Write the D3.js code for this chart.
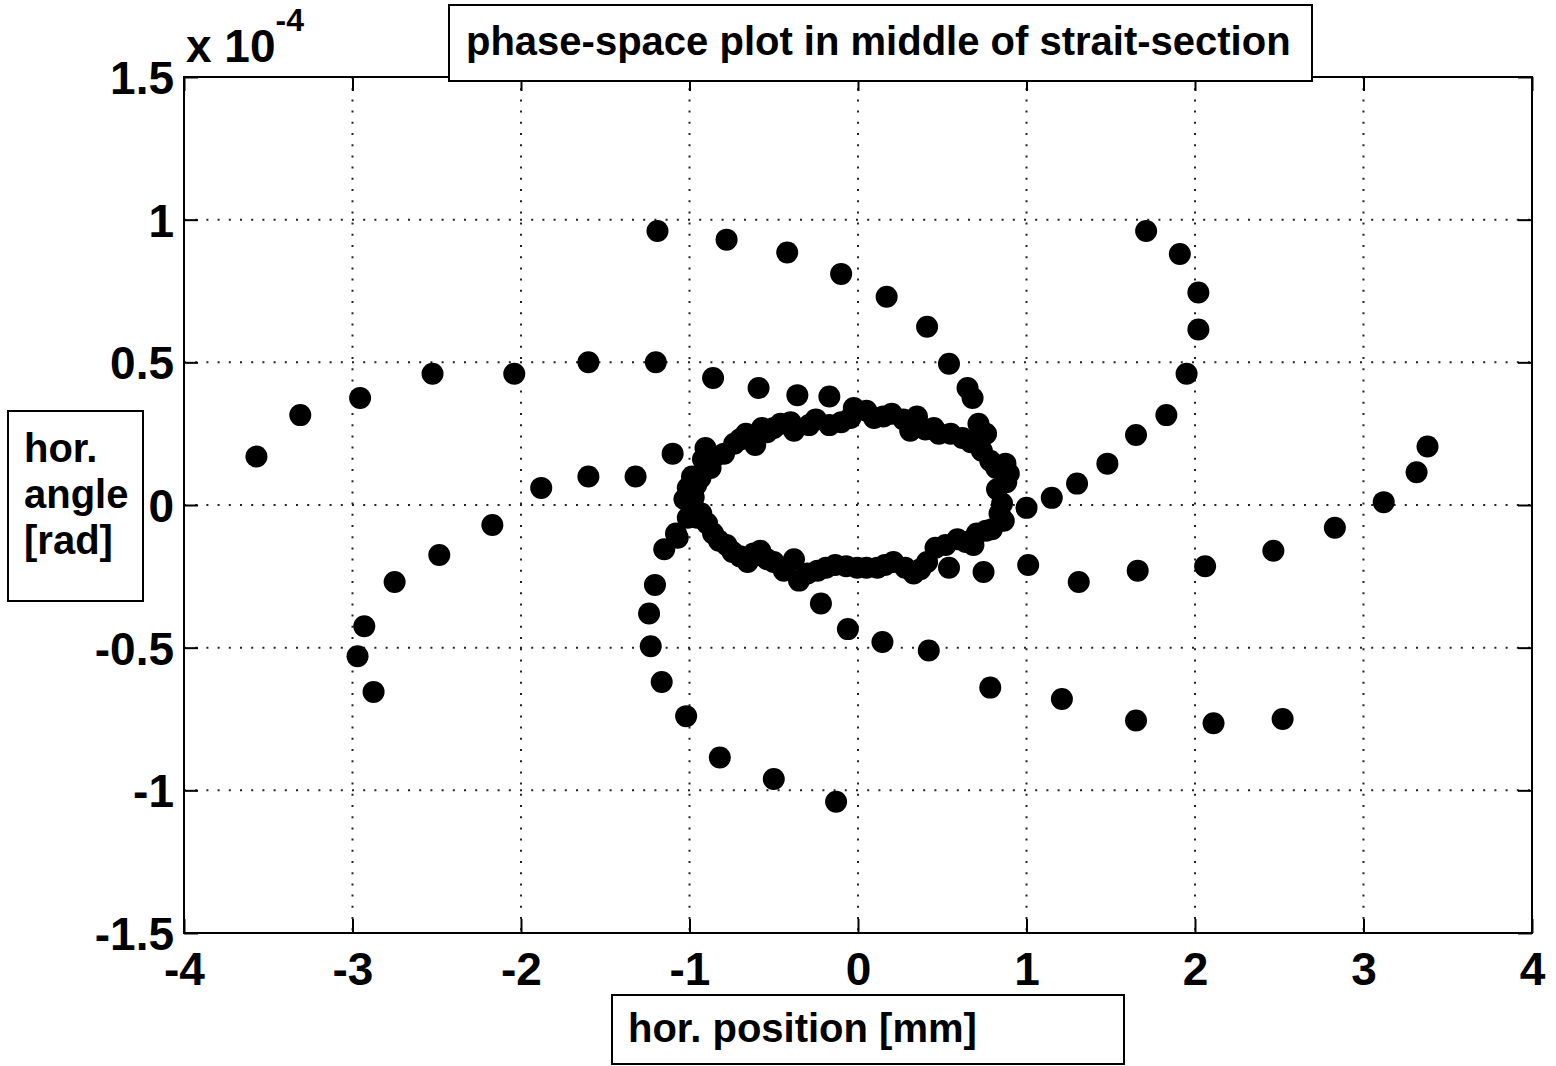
<!DOCTYPE html>
<html>
<head>
<meta charset="utf-8">
<script src="https://cdn.jsdelivr.net/npm/d3@7"></script>
<style>
  body { margin: 0; background: #fff; }
  svg text { font-family: "Liberation Sans", Arial, sans-serif; font-weight: bold; fill: #000; }
</style>
</head>
<body>
<svg id="chart" width="1556" height="1066"></svg>
<script>
// values: [hor. position (mm), hor. angle (x 1e-4 rad)]
const outerTurns = [
  [-1.19, 0.96], [-0.78, 0.93], [-0.42, 0.885], [-0.10, 0.81], [0.17, 0.73],
  [0.41, 0.625], [0.54, 0.495], [0.65, 0.41], [0.68, 0.375],
  [1.71, 0.96], [1.91, 0.88], [2.02, 0.745], [2.02, 0.615], [1.95, 0.46],
  [1.83, 0.315], [1.65, 0.245], [1.48, 0.145], [1.30, 0.075], [1.15, 0.025],
  [1.00, -0.01], [1.01, -0.21], [1.31, -0.27], [1.66, -0.23], [2.06, -0.215],
  [2.465, -0.16], [2.83, -0.08], [3.12, 0.01], [3.315, 0.115], [3.38, 0.205],
  [1.21, -0.68], [1.65, -0.755], [2.11, -0.765], [2.52, -0.75],
  [0.785, -0.64], [0.42, -0.51], [0.145, -0.48], [-0.06, -0.435], [-0.22, -0.345],
  [-0.13, -1.04], [-0.50, -0.96], [-0.82, -0.885], [-1.02, -0.74], [-1.165, -0.62],
  [-1.23, -0.495], [-1.24, -0.38], [-1.205, -0.28], [-1.15, -0.155], [-1.07, -0.115],
  [0.745, -0.235], [0.54, -0.22],
  [-0.86, 0.445], [-0.59, 0.41], [-0.36, 0.385], [-0.17, 0.38],
  [-0.905, 0.20], [-1.10, 0.18], [-1.32, 0.10], [-1.60, 0.10], [-1.88, 0.06],
  [-2.17, -0.07], [-2.485, -0.175], [-2.75, -0.27], [-2.93, -0.425], [-2.97, -0.53],
  [-2.875, -0.655],
  [-3.57, 0.17], [-3.31, 0.315], [-2.955, 0.375], [-2.525, 0.46], [-2.04, 0.46],
  [-1.60, 0.50], [-1.20, 0.50]
];

// the dense inner orbit (band of overlapping markers)
const innerOrbit = [
  [-0.935, 0.095], [-0.975, 0.027], [-1.01, -0.045], [-1.08, -0.10], [-0.875, 0.13],
  [-0.795, 0.18], [-0.735, 0.215], [-0.665, 0.25], [-0.61, 0.21], [-0.54, 0.255],
  [-0.46, 0.285], [-0.38, 0.26], [-0.29, 0.28], [-0.17, 0.28], [-0.045, 0.305],
  [-0.025, 0.34], [0.095, 0.305], [0.20, 0.32], [0.35, 0.31], [0.31, 0.26],
  [0.40, 0.265], [0.48, 0.25], [0.62, 0.235], [0.715, 0.285], [0.735, 0.19],
  [0.785, 0.155], [0.875, 0.145], [0.895, 0.11], [0.825, 0.055], [0.855, 0.005],
  [0.865, -0.055], [0.795, -0.085], [0.705, -0.10], [0.685, -0.14], [0.59, -0.12],
  [0.46, -0.15], [0.37, -0.225], [0.33, -0.24], [0.21, -0.20], [0.115, -0.22],
  [-0.005, -0.22], [-0.135, -0.21], [-0.24, -0.23], [-0.35, -0.265], [-0.38, -0.19],
  [-0.50, -0.20], [-0.58, -0.16], [-0.655, -0.20], [-0.745, -0.165], [-0.825, -0.125],
  [-0.895, -0.065], [-0.955, -0.045], [-1.01, 0.06], [-0.985, 0.10],
  [-0.92, 0.16], [-0.85, 0.17], [-0.70, 0.23], [-0.57, 0.27], [-0.50, 0.27],
  [-0.40, 0.29], [-0.25, 0.30], [-0.10, 0.29], [0.05, 0.33], [0.15, 0.31],
  [0.27, 0.30], [0.45, 0.27], [0.55, 0.25], [0.67, 0.22], [0.76, 0.25],
  [0.82, 0.13], [0.88, 0.08], [0.84, -0.03], [0.76, -0.09], [0.64, -0.13],
  [0.52, -0.14], [0.41, -0.20], [0.28, -0.22], [0.16, -0.21], [0.05, -0.22],
  [-0.07, -0.215], [-0.19, -0.22], [-0.30, -0.24], [-0.44, -0.23], [-0.54, -0.19],
  [-0.62, -0.17], [-0.70, -0.18], [-0.78, -0.14], [-0.86, -0.10], [-0.93, -0.03],
  [-0.98, 0.00], [-0.96, 0.07], [-1.03, 0.02], [-0.90, 0.13]
];

const xTicks = [-4, -3, -2, -1, 0, 1, 2, 3, 4];
const yTicks = [-1.5, -1, -0.5, 0, 0.5, 1, 1.5];
const titleText = "phase-space plot in middle of strait-section";
const xLabelText = "hor. position [mm]";
const yLabelLines = ["hor.", "angle", "[rad]"];

const svg = d3.select("#chart");
const margin = { left: 184, right: 24, top: 77, bottom: 133 };
const width = 1556, height = 1066;

const xScale = d3.scaleLinear([-4, 4], [margin.left, width - margin.right]);
const yScale = d3.scaleLinear([-1.5, 1.5], [height - margin.bottom, margin.top]);
const [x0, x1] = xScale.range();
const [y0, y1] = yScale.range();

svg.append("rect").attr("width", width).attr("height", height).attr("fill", "#fff");

// dotted grid
const grid = svg.append("g").attr("stroke", "#222").attr("stroke-width", 2)
  .attr("stroke-dasharray", "2 9.2");
grid.selectAll(".gx").data(xTicks.slice(1, -1)).join("line")
  .attr("x1", (d) => xScale(d)).attr("x2", (d) => xScale(d))
  .attr("y1", y1).attr("y2", y0);
grid.selectAll(".gy").data(yTicks.slice(1, -1)).join("line")
  .attr("x1", x0).attr("x2", x1)
  .attr("y1", (d) => yScale(d)).attr("y2", (d) => yScale(d));

// points
svg.append("g").selectAll("circle")
  .data(outerTurns.concat(innerOrbit)).join("circle")
  .attr("cx", (d) => xScale(d[0]))
  .attr("cy", (d) => yScale(d[1]))
  .attr("r", 11)
  .attr("fill", "#000");

// axes, ticks pointing inward
const tickFont = 46;
const styleAxis = (g) => {
  g.select(".domain").remove();
  g.selectAll(".tick line").attr("stroke", "#000").attr("stroke-width", 2);
  g.selectAll(".tick text").style("font-size", tickFont + "px").attr("fill", "#000");
};
svg.append("g").attr("transform", `translate(0,${y0})`)
  .call(d3.axisBottom(xScale).tickValues(xTicks).tickSize(-14).tickPadding(19)
    .tickFormat((d) => String(d)))
  .call(styleAxis)
  .selectAll(".tick text").attr("dy", "0.72em");
svg.append("g").attr("transform", `translate(0,${y1})`)
  .call(d3.axisTop(xScale).tickValues(xTicks).tickSize(-14).tickFormat(""))
  .call(styleAxis);
svg.append("g").attr("transform", `translate(${x0},0)`)
  .call(d3.axisLeft(yScale).tickValues(yTicks).tickSize(-14).tickPadding(10)
    .tickFormat((d) => String(d)))
  .call(styleAxis)
  .selectAll(".tick text").attr("dy", "0.36em");
svg.append("g").attr("transform", `translate(${x1},0)`)
  .call(d3.axisRight(yScale).tickValues(yTicks).tickSize(-14).tickFormat(""))
  .call(styleAxis);

svg.append("rect")
  .attr("x", x0).attr("y", y1).attr("width", x1 - x0).attr("height", y0 - y1)
  .attr("fill", "none").attr("stroke", "#000").attr("stroke-width", 2);

// exponent
const expo = svg.append("text").attr("x", 186).attr("y", 62).style("font-size", "46px");
expo.append("tspan").text("x 10");
expo.append("tspan").attr("dy", -31).style("font-size", "32px").text("-4");

// title box
svg.append("rect").attr("x", 449).attr("y", 5).attr("width", 863).attr("height", 76)
  .attr("fill", "#fff").attr("stroke", "#000").attr("stroke-width", 2);
svg.append("text").attr("x", 466).attr("y", 55).style("font-size", "40px").text(titleText);

// x label box
svg.append("rect").attr("x", 612).attr("y", 995).attr("width", 512).attr("height", 69)
  .attr("fill", "#fff").attr("stroke", "#000").attr("stroke-width", 2);
svg.append("text").attr("x", 628).attr("y", 1042).style("font-size", "40px").text(xLabelText);

// y label box
svg.append("rect").attr("x", 8).attr("y", 411).attr("width", 135).attr("height", 190)
  .attr("fill", "#fff").attr("stroke", "#000").attr("stroke-width", 2);
svg.append("g").selectAll("text").data(yLabelLines).join("text")
  .attr("x", 24).attr("y", (d, i) => 462 + i * 46)
  .style("font-size", "40px").text((d) => d);
</script>
</body>
</html>
